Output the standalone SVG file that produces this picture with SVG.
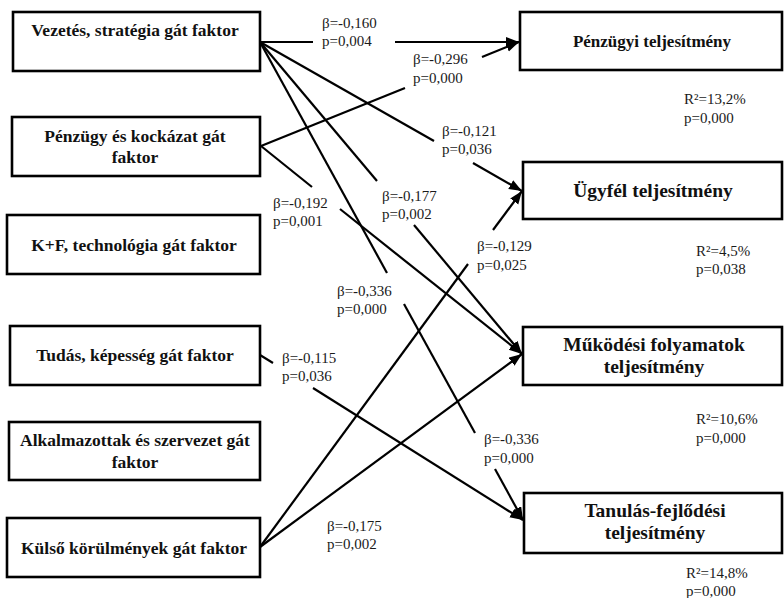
<svg xmlns="http://www.w3.org/2000/svg" width="784" height="598" viewBox="0 0 784 598">
<defs>
<style>
.box{fill:#fff;stroke:#000;stroke-width:2.6}
.bt{font-family:"Liberation Serif","Times New Roman",serif;font-weight:bold;font-size:17.5px;fill:#111;text-anchor:middle}
.rt{font-family:"Liberation Serif","Times New Roman",serif;font-weight:bold;font-size:19.5px;fill:#111;text-anchor:middle}
.lb{font-family:"Liberation Serif","Times New Roman",serif;font-size:15px;fill:#1a1a1a}
.ln{fill:none;stroke:#000;stroke-width:2.2}
</style>
<marker id="ah" markerUnits="userSpaceOnUse" markerWidth="14" markerHeight="12" refX="13" refY="5" orient="auto">
<path d="M0,0 L13,5 L0,10 z" fill="#000"/>
</marker>
</defs>
<rect width="784" height="598" fill="#fff"/>

<g id="connectors">
<!-- Vezetés -> Pénzügyi -->
<path class="ln" d="M260,42 H313"/>
<path class="ln" d="M395,42 H519" marker-end="url(#ah)"/>
<!-- Vezetés -> Ügyfél -->
<path class="ln" d="M260,42 L434,141"/>
<path class="ln" d="M473,163 L522,191" marker-end="url(#ah)"/>
<!-- Vezetés -> Működési -->
<path class="ln" d="M260,42 L377,181"/>
<path class="ln" d="M414,225 L522,354" marker-end="url(#ah)"/>
<!-- Vezetés -> Tanulás -->
<path class="ln" d="M260,42 L387,273"/>
<path class="ln" d="M404,304 L475,433"/>
<path class="ln" d="M495,469 L523,520" marker-end="url(#ah)"/>
<!-- Pénzügy -> Pénzügyi -->
<path class="ln" d="M261,146 L405,88"/>
<path class="ln" d="M482,57 L519,42" marker-end="url(#ah)"/>
<!-- Pénzügy -> Működési -->
<path class="ln" d="M261,146 L312,187"/>
<path class="ln" d="M340,209 L522,354" marker-end="url(#ah)"/>
<!-- Tudás -> Tanulás -->
<path class="ln" d="M260,355 L273,363"/>
<path class="ln" d="M313,388 L523,520" marker-end="url(#ah)"/>
<!-- Külső -> Ügyfél -->
<path class="ln" d="M260,547 L468,264"/>
<path class="ln" d="M493,230 L522,191" marker-end="url(#ah)"/>
<!-- Külső -> Működési -->
<path class="ln" d="M260,547 L522,354" marker-end="url(#ah)"/>
</g>

<g id="n-vezetes">
<rect class="box" x="13" y="12" width="247" height="59"/>
<text class="bt" x="135" y="36">Vezetés, stratégia gát faktor</text>
</g>
<g id="n-penzugy">
<rect class="box" x="12" y="117" width="248" height="59"/>
<text class="bt" x="135" y="142">Pénzügy és kockázat gát</text>
<text class="bt" x="135" y="163">faktor</text>
</g>
<g id="n-kf">
<rect class="box" x="7" y="215" width="253" height="59"/>
<text class="bt" x="134" y="251">K+F, technológia gát faktor</text>
</g>
<g id="n-tudas">
<rect class="box" x="10" y="326" width="250" height="59"/>
<text class="bt" x="135" y="361">Tudás, képesség gát faktor</text>
</g>
<g id="n-alkalmazottak">
<rect class="box" x="9" y="422" width="251" height="58"/>
<text class="bt" x="135" y="446">Alkalmazottak és szervezet gát</text>
<text class="bt" x="135" y="468">faktor</text>
</g>
<g id="n-kulso">
<rect class="box" x="7" y="518" width="253" height="59"/>
<text class="bt" x="134" y="554">Külső körülmények gát faktor</text>
</g>

<g id="n-penzugyi">
<rect class="box" x="520" y="12" width="262" height="58"/>
<text class="bt" x="652" y="47" style="font-size:17px">Pénzügyi teljesítmény</text>
</g>
<g id="n-ugyfel">
<rect class="box" x="523" y="162" width="259" height="57"/>
<text class="rt" x="653" y="197">Ügyfél teljesítmény</text>
</g>
<g id="n-mukodesi">
<rect class="box" x="523" y="327" width="259" height="58"/>
<text class="rt" x="654" y="351">Működési folyamatok</text>
<text class="rt" x="654" y="373">teljesítmény</text>
</g>
<g id="n-tanulas">
<rect class="box" x="524" y="493" width="258" height="60"/>
<text class="rt" x="655" y="517">Tanulás-fejlődési</text>
<text class="rt" x="655" y="539">teljesítmény</text>
</g>

<g id="labels">
<text class="lb" x="322" y="28">β=-0,160</text>
<text class="lb" x="322" y="46">p=0,004</text>
<text class="lb" x="413" y="64">β=-0,296</text>
<text class="lb" x="413" y="83">p=0,000</text>
<text class="lb" x="442" y="136">β=-0,121</text>
<text class="lb" x="442" y="154">p=0,036</text>
<text class="lb" x="273" y="208">β=-0,192</text>
<text class="lb" x="273" y="226">p=0,001</text>
<text class="lb" x="382" y="201">β=-0,177</text>
<text class="lb" x="382" y="219">p=0,002</text>
<text class="lb" x="477" y="251">β=-0,129</text>
<text class="lb" x="477" y="270">p=0,025</text>
<text class="lb" x="337" y="296">β=-0,336</text>
<text class="lb" x="337" y="314">p=0,000</text>
<text class="lb" x="282" y="363">β=-0,115</text>
<text class="lb" x="282" y="381">p=0,036</text>
<text class="lb" x="484" y="444">β=-0,336</text>
<text class="lb" x="484" y="463">p=0,000</text>
<text class="lb" x="327" y="531">β=-0,175</text>
<text class="lb" x="327" y="549">p=0,002</text>
<text class="lb" x="684" y="104">R²=13,2%</text>
<text class="lb" x="684" y="123">p=0,000</text>
<text class="lb" x="696" y="256">R²=4,5%</text>
<text class="lb" x="696" y="274">p=0,038</text>
<text class="lb" x="696" y="424">R²=10,6%</text>
<text class="lb" x="696" y="443">p=0,000</text>
<text class="lb" x="686" y="578">R²=14,8%</text>
<text class="lb" x="686" y="596">p=0,000</text>
</g>
</svg>
